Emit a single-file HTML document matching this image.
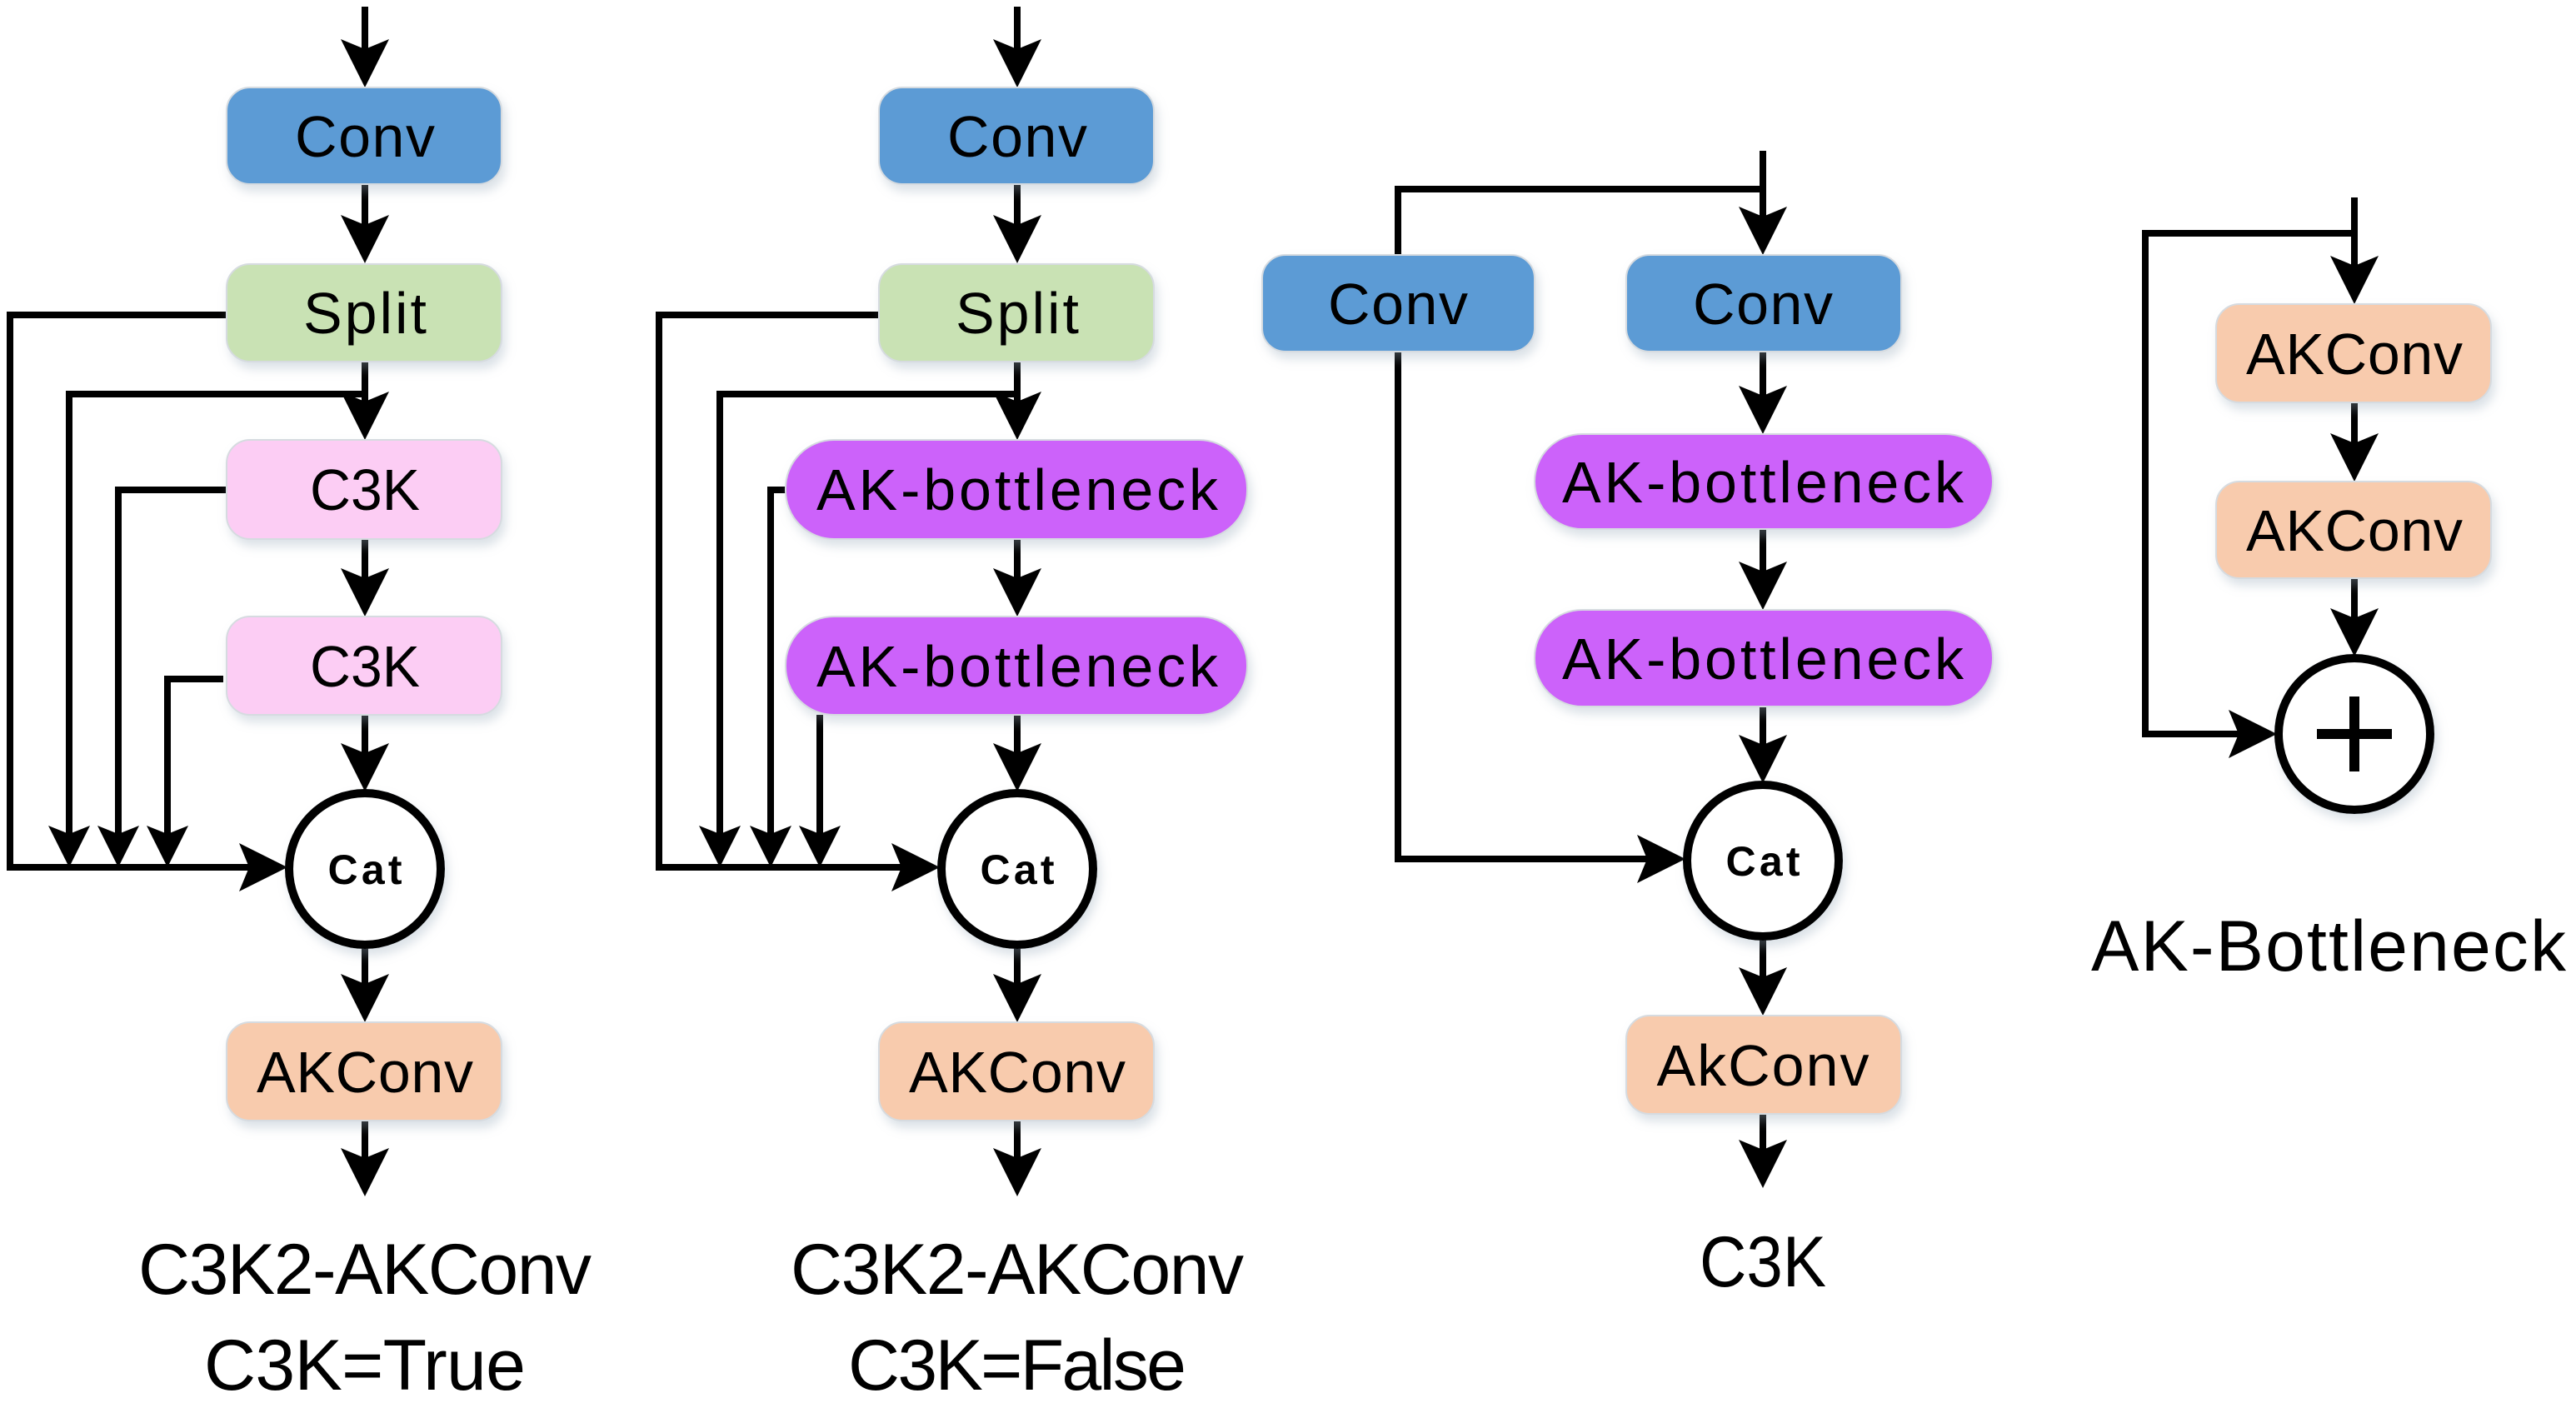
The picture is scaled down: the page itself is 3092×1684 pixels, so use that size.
<!DOCTYPE html>
<html><head><meta charset="utf-8"><style>
html,body{margin:0;padding:0;background:#fff;}
svg{display:block;}
text{font-family:"Liberation Sans",sans-serif;fill:#000;}
</style></head><body>
<svg width="3092" height="1684" viewBox="0 0 3092 1684" xmlns="http://www.w3.org/2000/svg">
<defs>
<filter id="sh" x="-10%" y="-20%" width="120%" height="150%"><feDropShadow dx="4" dy="8" stdDeviation="6" flood-color="#9ab" flood-opacity="0.35"/></filter>
</defs>
<g fill="none" stroke="#000" stroke-width="8">
<path d="M438 8V70M438 221V280M438 434V495M438 647V705M438 858V915M438 1136V1190M438 1345V1400"/>
<path d="M272 378H12V1041H305M438 473H83V1005M272 588H142V1005M268 815H201V1005"/>
<path d="M1221 8V70M1221 221V280M1221 434V495M1221 647V705M1221 858V915M1221 1136V1190M1221 1345V1400"/>
<path d="M1055 378H791V1041H1084M1221 473H864V1005M943 588H925V1005M984 858V1005"/>
<path d="M2116 181V270M2116 227H1678V306M1678 422V1031H1978M2116 422V485M2116 635V695M2116 848V905M2116 1126V1183M2116 1337V1390"/>
<path d="M2826 237V330M2826 280H2575V881H2688M2826 483V542M2826 694V750"/>
</g>
<g fill="#000">
<path d="M438 105l-29-58 29 12 29-12z M438 316l-29-58 29 12 29-12z M438 528l-29-58 29 12 29-12z M438 740l-29-58 29 12 29-12z M438 950l-29-58 29 12 29-12z M438 1227l-29-58 29 12 29-12z M438 1436l-29-58 29 12 29-12z"/>
<path d="M83 1041l-25-50 25 10 25-10z M142 1041l-25-50 25 10 25-10z M201 1041l-25-50 25 10 25-10z"/>
<path d="M345 1041l-58-29 12 29-12 29z"/>
<path d="M1221 105l-29-58 29 12 29-12z M1221 316l-29-58 29 12 29-12z M1221 528l-29-58 29 12 29-12z M1221 740l-29-58 29 12 29-12z M1221 950l-29-58 29 12 29-12z M1221 1227l-29-58 29 12 29-12z M1221 1436l-29-58 29 12 29-12z"/>
<path d="M864 1041l-25-50 25 10 25-10z M925 1041l-25-50 25 10 25-10z M984 1041l-25-50 25 10 25-10z"/>
<path d="M1128 1041l-58-29 12 29-12 29z"/>
<path d="M2116 306l-29-58 29 12 29-12z M2116 521l-29-58 29 12 29-12z M2116 732l-29-58 29 12 29-12z M2116 940l-29-58 29 12 29-12z M2116 1219l-29-58 29 12 29-12z M2116 1426l-29-58 29 12 29-12z"/>
<path d="M2023 1031l-58-29 12 29-12 29z"/>
<path d="M2826 365l-29-58 29 12 29-12z M2826 578l-29-58 29 12 29-12z M2826 788l-29-58 29 12 29-12z"/>
<path d="M2733 881l-58-29 12 29-12 29z"/>
</g>
<g filter="url(#sh)" stroke="#d6dbe0" stroke-width="2">
<rect x="272" y="105" width="330" height="116" rx="28" fill="#5b9bd5"/>
<rect x="272" y="317" width="330" height="117" rx="28" fill="#c9e2b4"/>
<rect x="272" y="528" width="330" height="119" rx="28" fill="#fccdf4"/>
<rect x="272" y="740" width="330" height="118" rx="28" fill="#fccdf4"/>
<rect x="272" y="1227" width="330" height="118" rx="28" fill="#f8cbad"/>
<rect x="1055" y="105" width="330" height="116" rx="28" fill="#5b9bd5"/>
<rect x="1055" y="317" width="330" height="117" rx="28" fill="#c9e2b4"/>
<rect x="943" y="528" width="554" height="119" rx="58" fill="#cc62fa"/>
<rect x="943" y="740" width="554" height="118" rx="58" fill="#cc62fa"/>
<rect x="1055" y="1227" width="330" height="118" rx="28" fill="#f8cbad"/>
<rect x="1515" y="306" width="327" height="116" rx="28" fill="#5b9bd5"/>
<rect x="1952" y="306" width="330" height="116" rx="28" fill="#5b9bd5"/>
<rect x="1842" y="521" width="550" height="114" rx="57" fill="#cc62fa"/>
<rect x="1842" y="732" width="550" height="116" rx="57" fill="#cc62fa"/>
<rect x="1952" y="1219" width="330" height="118" rx="28" fill="#f8cbad"/>
<rect x="2660" y="365" width="330" height="118" rx="28" fill="#f8cbad"/>
<rect x="2660" y="578" width="330" height="116" rx="28" fill="#f8cbad"/>
</g>
<g fill="#fff" stroke="#000" stroke-width="10" filter="url(#sh)">
<circle cx="438" cy="1043" r="91"/>
<circle cx="1221" cy="1043" r="91"/>
<circle cx="2116" cy="1033" r="91"/>
<circle cx="2826" cy="881" r="91"/>
</g>
<path d="M2781 881H2871M2826 836V926" stroke="#000" stroke-width="12"/>
<g font-size="70" text-anchor="middle">
<text x="438" y="188" textLength="168">Conv</text>
<text x="438" y="400" textLength="148">Split</text>
<text x="438" y="612" textLength="132" lengthAdjust="spacingAndGlyphs">C3K</text>
<text x="438" y="824" textLength="132" lengthAdjust="spacingAndGlyphs">C3K</text>
<text x="438" y="1311" textLength="260">AKConv</text>
<text x="1221" y="188" textLength="168">Conv</text>
<text x="1221" y="400" textLength="148">Split</text>
<text x="1221" y="612" textLength="482">AK-bottleneck</text>
<text x="1221" y="824" textLength="482">AK-bottleneck</text>
<text x="1221" y="1311" textLength="260">AKConv</text>
<text x="1678" y="389" textLength="168">Conv</text>
<text x="2116" y="389" textLength="168">Conv</text>
<text x="2116" y="603" textLength="482">AK-bottleneck</text>
<text x="2116" y="815" textLength="482">AK-bottleneck</text>
<text x="2116" y="1303" textLength="255">AkConv</text>
<text x="2826" y="449" textLength="260">AKConv</text>
<text x="2826" y="661" textLength="260">AKConv</text>
</g>
<g font-size="50" font-weight="bold" text-anchor="middle">
<text x="438" y="1061" textLength="89">Cat</text>
<text x="1221" y="1061" textLength="89">Cat</text>
<text x="2116" y="1051" textLength="89">Cat</text>
</g>
<g font-size="86" text-anchor="middle">
<text x="438" y="1553" textLength="544">C3K2-AKConv</text>
<text x="438" y="1668" textLength="386">C3K=True</text>
<text x="1221" y="1553" textLength="544">C3K2-AKConv</text>
<text x="1221" y="1668" textLength="406">C3K=False</text>
<text x="2116" y="1544" textLength="152" lengthAdjust="spacingAndGlyphs">C3K</text>
<text x="2795" y="1165" textLength="570">AK-Bottleneck</text>
</g>
</svg>
</body></html>
